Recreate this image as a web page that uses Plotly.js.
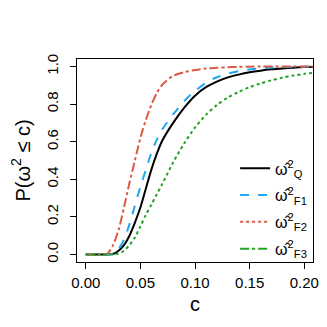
<!DOCTYPE html>
<html>
<head>
<meta charset="utf-8">
<script src="https://cdn.plot.ly/plotly-3.0.1.min.js"></script>
<style>html,body{margin:0;padding:0;background:#fff;}#chart{width:327px;height:327px;}</style>
</head>
<body>
<div id="chart"></div>
<script>
// Grid of c values
const cVals = [0, 0.01, 0.015, 0.02, 0.025, 0.03, 0.035, 0.04, 0.045, 0.05, 0.055, 0.06, 0.065, 0.07,
  0.08, 0.09, 0.10, 0.11, 0.12, 0.13, 0.14, 0.15, 0.16, 0.17, 0.18, 0.19, 0.20, 0.21];
// P(omega^2 <= c) for each statistic
const omegaQ  = [0, 0, 0, 0, 0.003, 0.02, 0.05, 0.10, 0.17, 0.25, 0.35, 0.45, 0.535, 0.605,
  0.70, 0.78, 0.845, 0.89, 0.92, 0.942, 0.957, 0.969, 0.978, 0.985, 0.99, 0.994, 0.997, 0.998];
const omegaF1 = [0, 0, 0, 0, 0.005, 0.03, 0.08, 0.16, 0.26, 0.36, 0.45, 0.54, 0.61, 0.665,
  0.745, 0.815, 0.87, 0.913, 0.943, 0.962, 0.975, 0.984, 0.991, 0.995, 0.997, 0.998, 0.999, 1.0];
const omegaF2 = [0, 0, 0, 0.005, 0.05, 0.13, 0.25, 0.38, 0.50, 0.62, 0.715, 0.795, 0.858, 0.903,
  0.95, 0.97, 0.981, 0.989, 0.993, 0.996, 0.998, 0.999, 1, 1, 1, 1, 1, 1];
const omegaF3 = [0, 0, 0, 0, 0, 0.005, 0.02, 0.05, 0.09, 0.15, 0.21, 0.265, 0.32, 0.375,
  0.49, 0.59, 0.675, 0.743, 0.795, 0.835, 0.865, 0.89, 0.91, 0.927, 0.941, 0.952, 0.961, 0.968];

const seriesNames = ["ω\u0302<sup>2</sup><sub>Q</sub>", "ω\u0302<sup>2</sup><sub>F1</sub>",
  "ω\u0302<sup>2</sup><sub>F2</sub>", "ω\u0302<sup>2</sup><sub>F3</sub>"];
const xTickVals = [0, 0.05, 0.10, 0.15, 0.20];
const yTickVals = [0, 0.2, 0.4, 0.6, 0.8, 1.0];

const colors = ["#000000", "#1FA8F2", "#DC5A44", "#22A022"];
const plotDash = ["solid", "dash", "dashdot", "dot"];
const legendDash = ["solid", "dash", "dot", "dashdot"];
const ys = [omegaQ, omegaF1, omegaF2, omegaF3];

const traces = [];
ys.forEach((y, i) => {
  traces.push({x: cVals, y: y, type: "scatter", mode: "lines", showlegend: false,
    line: {color: colors[i], width: 2, dash: plotDash[i], shape: "spline", smoothing: 0.8},
    hoverinfo: "skip"});
});
ys.forEach((y, i) => {
  traces.push({x: [null], y: [null], type: "scatter", mode: "lines", name: seriesNames[i],
    legendgroup: "g" + i,
    line: {color: colors[i], width: 2, dash: legendDash[i]}});
});

const font = {family: "Liberation Sans, Arial, sans-serif", color: "#000"};
const layout = {
  width: 327, height: 327,
  margin: {l: 77, r: 14, t: 59, b: 65, pad: 0},
  paper_bgcolor: "#fff", plot_bgcolor: "#fff",
  font: Object.assign({size: 15}, font),
  showlegend: true,
  legend: {x: 0.67, xanchor: "left", y: 0.545, yanchor: "top", bgcolor: "rgba(0,0,0,0)",
    borderwidth: 0, font: Object.assign({size: 16}, font), itemwidth: 30,
    traceorder: "grouped", tracegroupgap: 3},
  xaxis: {range: [-0.008, 0.208], tickvals: xTickVals, tickformat: ".2f",
    ticks: "outside", ticklen: 6, tickcolor: "#000", tickwidth: 1, ticklabelstandoff: 1,
    showline: true, linecolor: "#000", linewidth: 1, mirror: true,
    showgrid: false, zeroline: false, tickfont: Object.assign({size: 15}, font),
    title: {text: "c", font: Object.assign({size: 20}, font), standoff: 6}},
  yaxis: {range: [-0.04, 1.04], tickvals: yTickVals, tickformat: ".1f", tickangle: -90,
    ticks: "outside", ticklen: 6, tickcolor: "#000", tickwidth: 1, ticklabelstandoff: 6,
    showline: true, linecolor: "#000", linewidth: 1, mirror: true,
    showgrid: false, zeroline: false, tickfont: Object.assign({size: 15}, font),
    title: {text: "P(ω<sup>2</sup> ≤ c)", font: Object.assign({size: 20}, font), standoff: 8}}
};

Plotly.newPlot("chart", traces, layout, {displayModeBar: false, staticPlot: true});
</script>
</body>
</html>
